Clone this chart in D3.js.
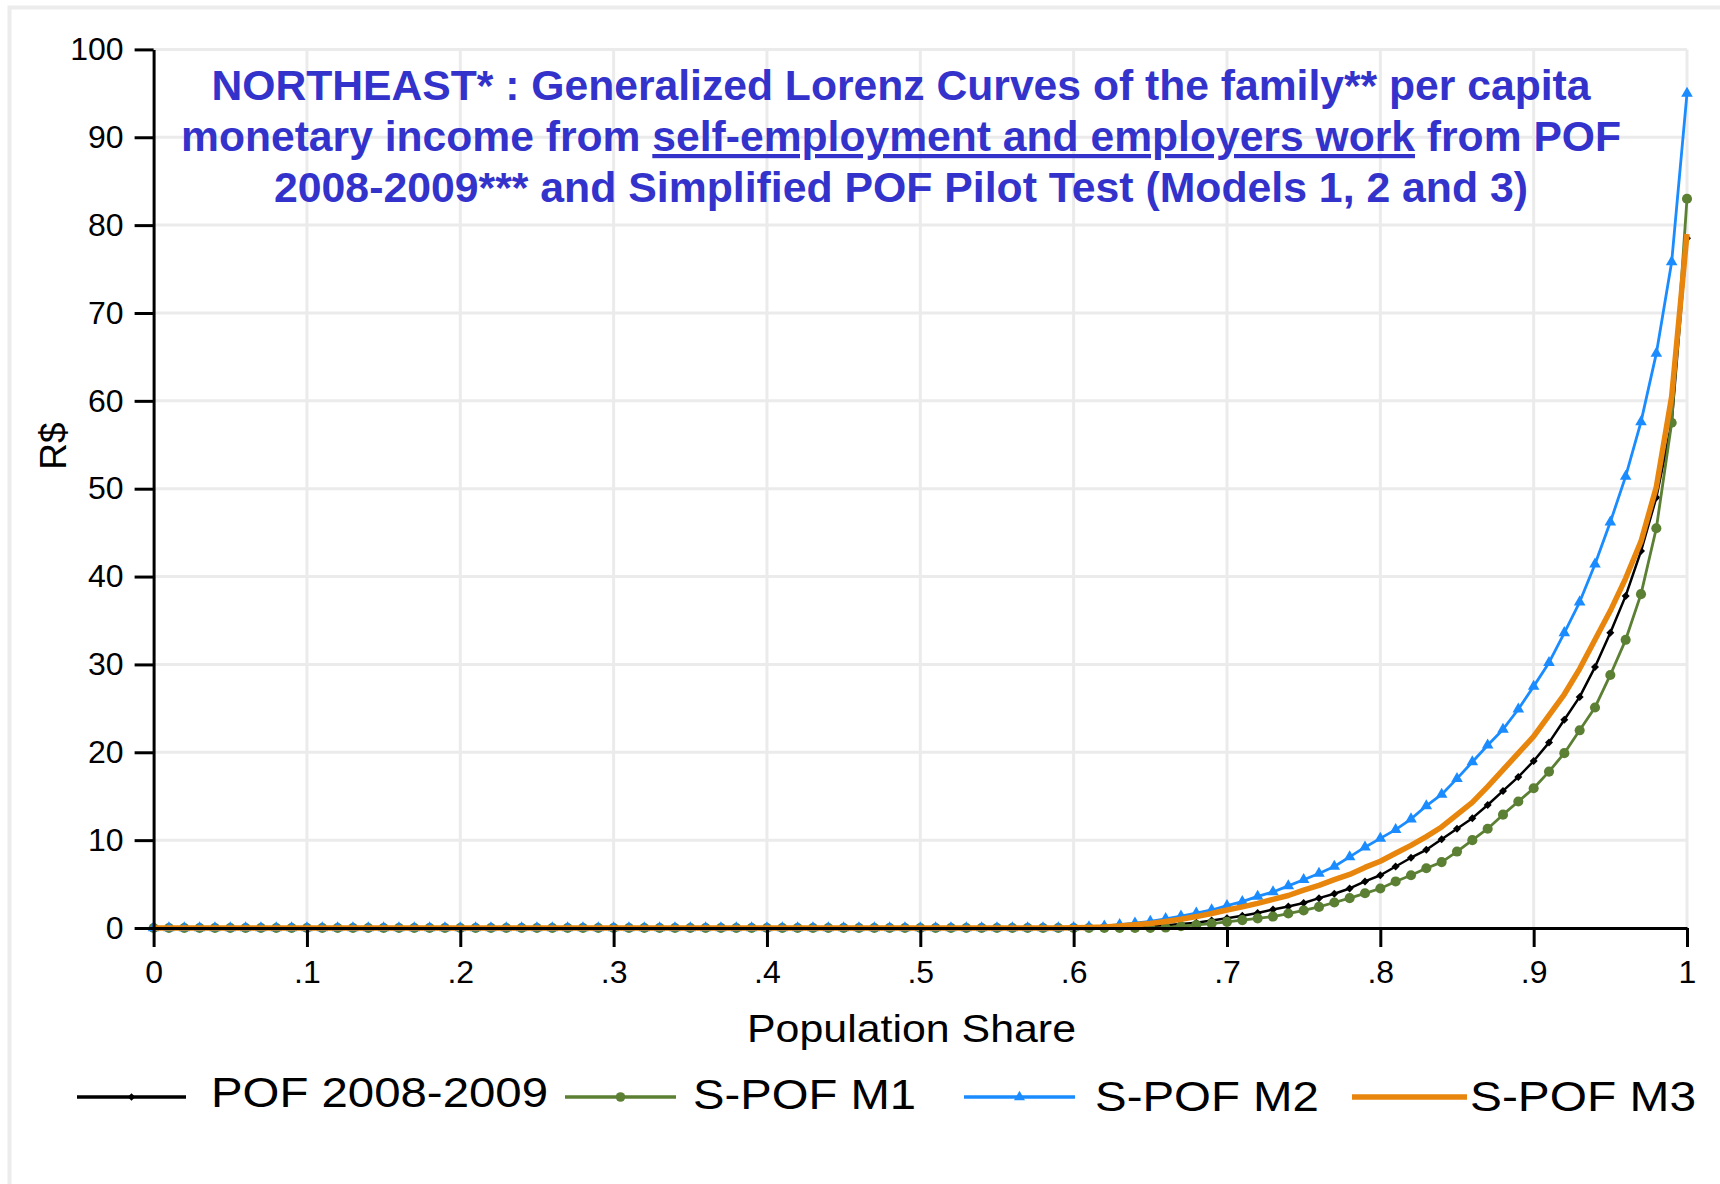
<!DOCTYPE html>
<html>
<head>
<meta charset="utf-8">
<script src="https://cdn.jsdelivr.net/npm/d3@7"></script>
<style>
  html, body { margin: 0; padding: 0; background: #fff; }
  svg { display: block; }
  text { font-family: "Liberation Sans", Arial, sans-serif; }
</style>
</head>
<body>
<div id="chart"></div>
<script>
// population share grid, one point per percentile
var share = d3.range(101).map(function (i) { return i / 100; });

// values (R$), index = percentile
var pof = [
  0,0,0,0,0,0,0,0,0,0,
  0,0,0,0,0,0,0,0,0,0,
  0,0,0,0,0,0,0,0,0,0,
  0,0,0,0,0,0,0,0,0,0,
  0,0,0,0,0,0,0,0,0,0,
  0,0,0,0,0,0,0,0,0,0,
  0,0,0.02,0.05,0.1,0.2,0.3,0.45,0.6,0.85,
  1.1,1.4,1.7,2.1,2.45,2.85,3.4,3.9,4.5,5.3,
  6.0,7.0,8.0,8.9,10.1,11.3,12.5,14.0,15.6,17.2,
  19.0,21.1,23.7,26.3,29.7,33.6,37.8,42.9,49.0,57.5,
  78.5
];
var spofM1 = [
  0,0,0,0,0,0,0,0,0,0,
  0,0,0,0,0,0,0,0,0,0,
  0,0,0,0,0,0,0,0,0,0,
  0,0,0,0,0,0,0,0,0,0,
  0,0,0,0,0,0,0,0,0,0,
  0,0,0,0,0,0,0,0,0,0,
  0,0,0,0,0,0,0.05,0.2,0.35,0.5,
  0.7,0.9,1.1,1.3,1.65,2.0,2.4,2.9,3.4,3.95,
  4.5,5.3,6.0,6.8,7.5,8.7,10.0,11.3,12.9,14.4,
  15.9,17.8,19.9,22.5,25.1,28.8,32.8,38.0,45.5,57.5,
  83.0
];
var spofM2 = [
  0,0,0,0,0,0,0,0,0,0,
  0,0,0,0,0,0,0,0,0,0,
  0,0,0,0,0,0,0,0,0,0,
  0,0,0,0,0,0,0,0,0,0,
  0,0,0,0,0,0,0,0,0,0,
  0,0,0,0,0,0,0,0,0,0,
  0.05,0.12,0.22,0.38,0.55,0.75,1.05,1.35,1.7,2.05,
  2.55,3.0,3.6,4.1,4.8,5.5,6.2,7.0,8.1,9.2,
  10.2,11.2,12.4,13.9,15.2,17.0,18.9,20.8,22.6,24.9,
  27.5,30.2,33.6,37.1,41.4,46.2,51.4,57.6,65.4,75.8,
  95.0
];
var spofM3 = [
  0,0,0,0,0,0,0,0,0,0,
  0,0,0,0,0,0,0,0,0,0,
  0,0,0,0,0,0,0,0,0,0,
  0,0,0,0,0,0,0,0,0,0,
  0,0,0,0,0,0,0,0,0,0,
  0,0,0,0,0,0,0,0,0,0,
  0.03,0.07,0.12,0.22,0.36,0.52,0.75,1.0,1.3,1.65,
  2.05,2.4,2.8,3.25,3.7,4.3,4.85,5.5,6.1,6.9,
  7.6,8.5,9.4,10.4,11.5,12.9,14.3,16.1,18.0,19.9,
  21.8,24.2,26.6,29.5,32.8,36.1,39.8,44.0,50.2,60.5,
  79.0
];

var xTicks = [0, .1, .2, .3, .4, .5, .6, .7, .8, .9, 1];
var xTickLabels = ["0", ".1", ".2", ".3", ".4", ".5", ".6", ".7", ".8", ".9", "1"];
var yTicks = [0, 10, 20, 30, 40, 50, 60, 70, 80, 90, 100];

var titleLines = [
  [{t: "NORTHEAST* : Generalized Lorenz Curves of the family** per capita"}],
  [{t: "monetary income from "}, {t: "self-employment and employers work", u: true}, {t: " from POF"}],
  [{t: "2008-2009*** and Simplified POF Pilot Test (Models 1, 2 and 3)"}]
];

var series = [
  {name: "POF 2008-2009", values: pof,    color: "#000000", width: 2.5, marker: "diamond"},
  {name: "S-POF M1",      values: spofM1, color: "#5b7f33", width: 2.8, marker: "circle"},
  {name: "S-POF M2",      values: spofM2, color: "#1a8cff", width: 2.8, marker: "triangle"},
  {name: "S-POF M3",      values: spofM3, color: "#e8850c", width: 5.5, marker: "none"}
];

var width = 1720, height = 1184;
var svg = d3.select("#chart").append("svg")
    .attr("width", width)
    .attr("height", height);

svg.append("rect").attr("width", width).attr("height", height).attr("fill", "#fff");
// light outer frame
svg.append("rect")
    .attr("x", 9.5).attr("y", 7.5)
    .attr("width", width + 20).attr("height", height + 20)
    .attr("fill", "none").attr("stroke", "#ececec").attr("stroke-width", 4);

var x = d3.scaleLinear().domain([0, 1]).range([153.6, 1687]);
var y = d3.scaleLinear().domain([0, 100]).range([928, 49.4]);

// grid
var grid = svg.append("g").attr("stroke", "#ebebeb").attr("stroke-width", 3);
grid.selectAll(".vg").data(xTicks.slice(1)).enter().append("line")
    .attr("x1", d => x(d)).attr("x2", d => x(d))
    .attr("y1", y(100)).attr("y2", y(0));
grid.selectAll(".hg").data(yTicks.slice(1)).enter().append("line")
    .attr("x1", x(0)).attr("x2", x(1))
    .attr("y1", d => y(d)).attr("y2", d => y(d));

// curves
var line = d3.line()
    .x(function (d, i) { return x(share[i]); })
    .y(function (d) { return y(d); });

function markerPath(kind, s) {
  if (kind === "diamond") return d3.symbol(d3.symbolSquare, 32 * s)();
  if (kind === "triangle") return d3.symbol(d3.symbolTriangle, 58 * s)();
  return d3.symbol(d3.symbolCircle, 80 * s)();
}

series.forEach(function (s) {
  var g = svg.append("g");
  g.append("path")
      .datum(s.values)
      .attr("fill", "none")
      .attr("stroke", s.color)
      .attr("stroke-width", s.width)
      .attr("stroke-linejoin", "round")
      .attr("d", line);
  if (s.marker !== "none") {
    g.selectAll("path.m").data(s.values).enter().append("path")
        .attr("class", "m")
        .attr("fill", s.color)
        .attr("d", markerPath(s.marker, 1))
        .attr("transform", function (d, i) {
          return "translate(" + x(share[i]) + "," + y(d) + ")" + (s.marker === "diamond" ? "rotate(45)" : "");
        });
  }
});

// axes
var xAxis = svg.append("g")
    .attr("transform", "translate(0," + y(0) + ")")
    .call(d3.axisBottom(x).tickValues(xTicks)
      .tickFormat(function (d, i) { return xTickLabels[i]; })
      .tickSize(19).tickSizeOuter(0).tickPadding(13));
var yAxis = svg.append("g")
    .attr("transform", "translate(" + x(0) + ",0)")
    .call(d3.axisLeft(y).tickValues(yTicks)
      .tickSize(19).tickSizeOuter(0).tickPadding(11));

[xAxis, yAxis].forEach(function (a) {
  a.select(".domain").attr("stroke", "#000").attr("stroke-width", 3);
  a.selectAll(".tick line").attr("stroke", "#000").attr("stroke-width", 3);
  a.selectAll(".tick text")
      .attr("fill", "#000")
      .style("font-family", "'Liberation Sans', Arial, sans-serif")
      .style("font-size", "32px");
});

// axis titles
svg.append("text")
    .attr("x", 747).attr("y", 1042)
    .attr("textLength", 329).attr("lengthAdjust", "spacingAndGlyphs")
    .style("font-size", "39px")
    .text("Population Share");

svg.append("text")
    .attr("transform", "translate(66,446) rotate(-90)")
    .attr("text-anchor", "middle")
    .style("font-size", "37px")
    .text("R$");

// title
var titleWidths = [1379, 1440, 1254];
var titleBase = [100, 151, 202];
titleLines.forEach(function (parts, i) {
  var t = svg.append("text")
      .attr("x", 901 - titleWidths[i] / 2)
      .attr("y", titleBase[i])
      .attr("textLength", titleWidths[i])
      .attr("lengthAdjust", "spacingAndGlyphs")
      .attr("fill", "#3333cc")
      .style("font-size", "42px")
      .style("font-weight", "bold");
  parts.forEach(function (p) {
    var ts = t.append("tspan").text(p.t);
    if (p.u) ts.style("text-decoration", "underline");
  });
});

// legend
var legendItems = [
  {x1: 77,   x2: 186,  tx: 211,  tw: 337, ly: 1097, by: 1107},
  {x1: 565,  x2: 676,  tx: 693,  tw: 223, ly: 1097, by: 1109},
  {x1: 964,  x2: 1075, tx: 1095, tw: 224, ly: 1097, by: 1111},
  {x1: 1352, x2: 1467, tx: 1470, tw: 226, ly: 1097, by: 1111}
];
series.forEach(function (s, i) {
  var L = legendItems[i];
  var g = svg.append("g");
  g.append("line")
      .attr("x1", L.x1).attr("x2", L.x2)
      .attr("y1", L.ly).attr("y2", L.ly)
      .attr("stroke", s.color)
      .attr("stroke-width", s.marker === "none" ? 5.5 : 3.5);
  if (s.marker !== "none") {
    g.append("path")
        .attr("fill", s.color)
        .attr("d", markerPath(s.marker, 0.9))
        .attr("transform", "translate(" + ((L.x1 + L.x2) / 2) + "," + L.ly + ")" + (s.marker === "diamond" ? "rotate(45)" : ""));
  }
  g.append("text")
      .attr("x", L.tx).attr("y", L.by)
      .attr("textLength", L.tw).attr("lengthAdjust", "spacingAndGlyphs")
      .style("font-size", "42px")
      .text(s.name);
});
</script>
</body>
</html>
